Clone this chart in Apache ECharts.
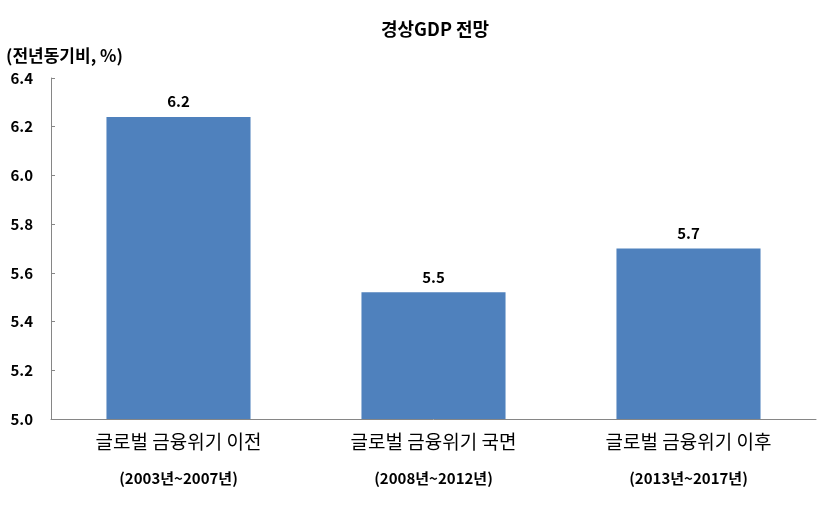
<!DOCTYPE html>
<html>
<head>
<meta charset="utf-8">
<script src="https://cdn.jsdelivr.net/npm/echarts@6/dist/echarts.min.js"></script>
<style>
  html, body { margin: 0; padding: 0; background: #fff; }
  #main { width: 831px; height: 529px; }
</style>
</head>
<body>
<div id="main"></div>
<script>
const categories = ['글로벌 금융위기 이전', '글로벌 금융위기 국면', '글로벌 금융위기 이후'];
const periods = ['(2003년~2007년)', '(2008년~2012년)', '(2013년~2017년)'];
const values = [6.24, 5.52, 5.70];

const font = '"Noto Sans CJK KR", "Noto Sans", sans-serif';
const chart = echarts.init(document.getElementById('main'));

chart.setOption({
  animation: false,
  title: {
    text: '경상GDP 전망',
    left: 376,
    top: 15,
    textStyle: { fontFamily: font, fontSize: 18, fontWeight: 'bold', color: '#000' }
  },
  grid: { left: 51, right: 15, top: 78, bottom: 110 },
  xAxis: {
    type: 'category',
    data: categories,
    axisLine: { lineStyle: { color: '#868686' } },
    axisTick: { show: false },
    axisLabel: {
      interval: 0,
      margin: 10,
      formatter(v, i) {
        return '{a|' + v + '}\n{b|' + periods[i] + '}';
      },
      rich: {
        a: { fontFamily: font, fontSize: 19, color: '#000', lineHeight: 26 },
        b: { fontFamily: font, fontSize: 15, fontWeight: 'bold', color: '#000', lineHeight: 46 }
      }
    }
  },
  yAxis: {
    type: 'value',
    min: 5.0,
    max: 6.4,
    interval: 0.2,
    name: '(전년동기비, %)',
    nameLocation: 'end',
    nameGap: 14,
    nameTextStyle: { fontFamily: font, fontSize: 17, fontWeight: 'bold', color: '#000', align: 'left', padding: [0, 0, 0, -45] },
    axisLine: { show: true, lineStyle: { color: '#868686' } },
    axisTick: { show: true, inside: true, length: 4, lineStyle: { color: '#868686' } },
    splitLine: { show: false },
    axisLabel: {
      margin: 18,
      fontFamily: font,
      fontSize: 15,
      fontWeight: 'bold',
      color: '#000',
      formatter: v => v.toFixed(1)
    }
  },
  series: [{
    type: 'bar',
    data: values,
    barWidth: '56.5%',
    itemStyle: { color: '#4F81BD' },
    label: {
      show: true,
      position: 'top',
      distance: 8,
      fontFamily: font,
      fontSize: 15,
      fontWeight: 'bold',
      color: '#000',
      formatter: p => p.value.toFixed(1)
    }
  }]
});
</script>
</body>
</html>
